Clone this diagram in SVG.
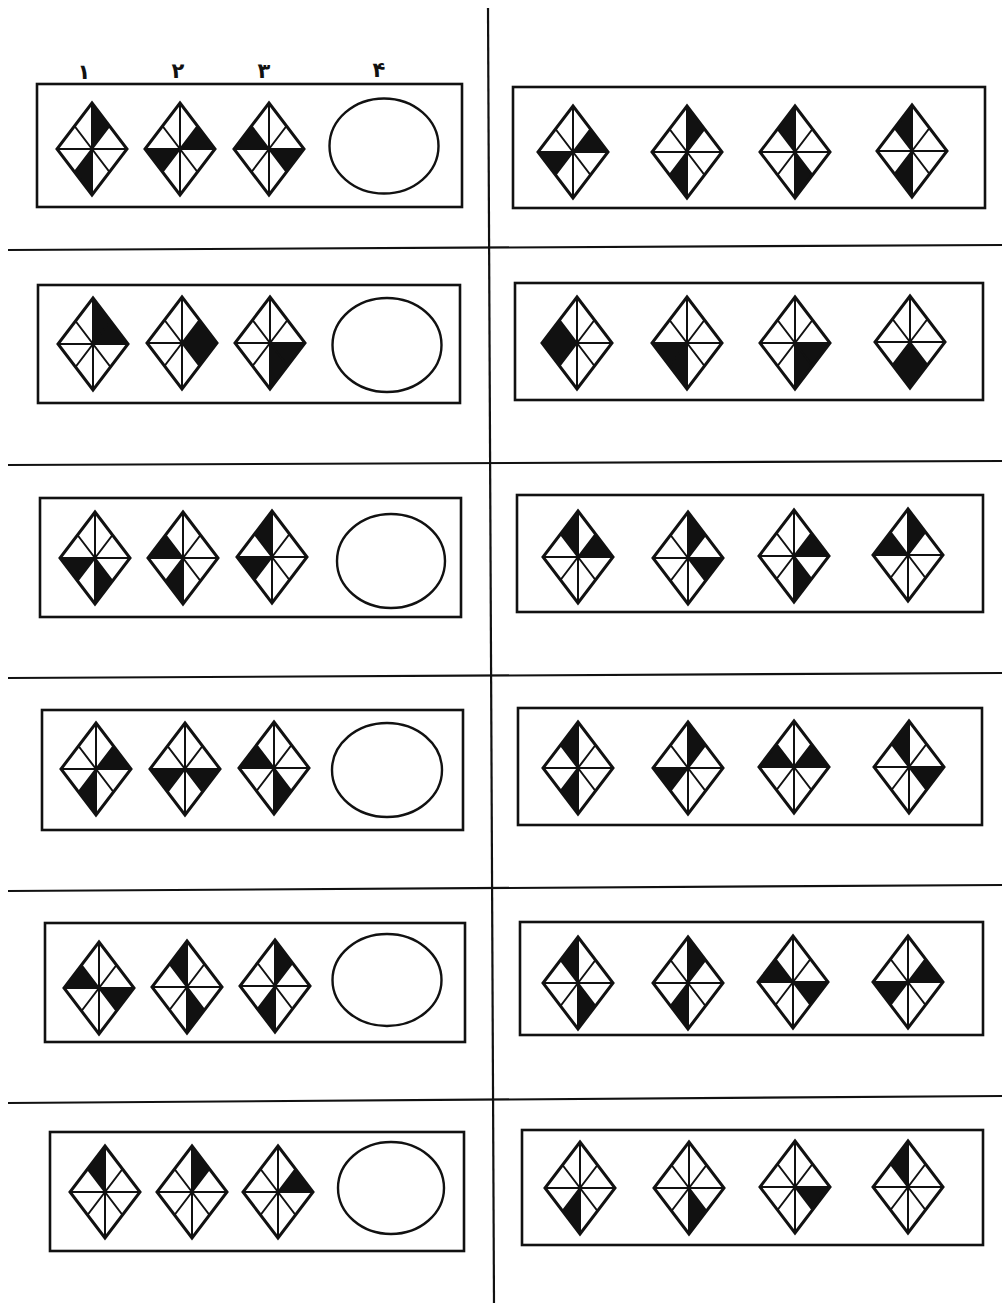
<svg xmlns="http://www.w3.org/2000/svg" xmlns:xlink="http://www.w3.org/1999/xlink" width="1002" height="1303" viewBox="0 0 1002 1303">
<style>
.box{fill:none;stroke:#111;stroke-width:2.6}
.sep{fill:none;stroke:#111;stroke-width:2.2}
.ell{fill:none;stroke:#111;stroke-width:2.4}
.f{fill:#111}
.out{fill:none;stroke:#111;stroke-width:3;stroke-linejoin:miter}
.in{fill:none;stroke:#111;stroke-width:2}
.num{font-family:"DejaVu Sans","Noto Sans",sans-serif;font-size:21px;font-weight:bold;fill:#111;text-anchor:middle}
</style>
<defs>
<polygon id="s0" points="0,0 0,-46 17.5,-23"/>
<polygon id="s1" points="0,0 17.5,-23 35,0"/>
<polygon id="s2" points="0,0 35,0 17.5,23"/>
<polygon id="s3" points="0,0 17.5,23 0,46"/>
<polygon id="s4" points="0,0 0,46 -17.5,23"/>
<polygon id="s5" points="0,0 -17.5,23 -35,0"/>
<polygon id="s6" points="0,0 -35,0 -17.5,-23"/>
<polygon id="s7" points="0,0 -17.5,-23 0,-46"/>
<g id="dia">
<path class="in" d="M0,-46V46M-35,0H35M0,0L17.5,-23M0,0L17.5,23M0,0L-17.5,23M0,0L-17.5,-23"/>
<polygon class="out" points="0,-46 35,0 0,46 -35,0"/>
</g>
</defs>
<rect width="1002" height="1303" fill="#fff"/>
<g id="connectors">
<line class="sep" x1="488" y1="8" x2="494" y2="1303"/>
<line class="sep" x1="8" y1="250" x2="1002" y2="245"/>
<line class="sep" x1="8" y1="465" x2="1002" y2="461"/>
<line class="sep" x1="8" y1="678" x2="1002" y2="673"/>
<line class="sep" x1="8" y1="891" x2="1002" y2="885"/>
<line class="sep" x1="8" y1="1103" x2="1002" y2="1096"/>
</g>
<g id="labels">
<text class="num" x="84" y="79">۱</text>
<text class="num" x="178" y="78">۲</text>
<text class="num" x="264" y="78">۳</text>
<text class="num" x="379" y="77">۴</text>
</g>
<!-- Row 1 -->
<g id="L1">
<rect class="box" x="37" y="84" width="425" height="123"/>
<g id="L1a" transform="translate(92,149)"><use href="#s0" class="f"/><use href="#s4" class="f"/><use href="#dia"/></g>
<g id="L1b" transform="translate(180,149)"><use href="#s1" class="f"/><use href="#s5" class="f"/><use href="#dia"/></g>
<g id="L1c" transform="translate(269,149)"><use href="#s2" class="f"/><use href="#s6" class="f"/><use href="#dia"/></g>
<ellipse id="L1d" class="ell" cx="384" cy="146" rx="54.5" ry="47.5"/>
</g>
<g id="R1">
<rect class="box" x="513" y="87" width="472" height="121"/>
<g id="R1a" transform="translate(573,152)"><use href="#s1" class="f"/><use href="#s5" class="f"/><use href="#dia"/></g>
<g id="R1b" transform="translate(687,152)"><use href="#s0" class="f"/><use href="#s4" class="f"/><use href="#dia"/></g>
<g id="R1c" transform="translate(795,152)"><use href="#s3" class="f"/><use href="#s7" class="f"/><use href="#dia"/></g>
<g id="R1d" transform="translate(912,151)"><use href="#s4" class="f"/><use href="#s7" class="f"/><use href="#dia"/></g>
</g>
<!-- Row 2 -->
<g id="L2">
<rect class="box" x="38" y="285" width="422" height="118"/>
<g id="L2a" transform="translate(93,344)"><use href="#s0" class="f"/><use href="#s1" class="f"/><use href="#dia"/></g>
<g id="L2b" transform="translate(182,343)"><use href="#s1" class="f"/><use href="#s2" class="f"/><use href="#dia"/></g>
<g id="L2c" transform="translate(270,343)"><use href="#s2" class="f"/><use href="#s3" class="f"/><use href="#dia"/></g>
<ellipse id="L2d" class="ell" cx="387" cy="345" rx="54.5" ry="47"/>
</g>
<g id="R2">
<rect class="box" x="515" y="283" width="468" height="117"/>
<g id="R2a" transform="translate(577,343)"><use href="#s5" class="f"/><use href="#s6" class="f"/><use href="#dia"/></g>
<g id="R2b" transform="translate(687,343)"><use href="#s4" class="f"/><use href="#s5" class="f"/><use href="#dia"/></g>
<g id="R2c" transform="translate(795,343)"><use href="#s2" class="f"/><use href="#s3" class="f"/><use href="#dia"/></g>
<g id="R2d" transform="translate(910,342)"><use href="#s3" class="f"/><use href="#s4" class="f"/><use href="#dia"/></g>
</g>
<!-- Row 3 -->
<g id="L3">
<rect class="box" x="40" y="498" width="421" height="119"/>
<g id="L3a" transform="translate(95,558)"><use href="#s3" class="f"/><use href="#s5" class="f"/><use href="#dia"/></g>
<g id="L3b" transform="translate(183,558)"><use href="#s4" class="f"/><use href="#s6" class="f"/><use href="#dia"/></g>
<g id="L3c" transform="translate(272,557)"><use href="#s5" class="f"/><use href="#s7" class="f"/><use href="#dia"/></g>
<ellipse id="L3d" class="ell" cx="391" cy="561" rx="54" ry="47"/>
</g>
<g id="R3">
<rect class="box" x="517" y="495" width="466" height="117"/>
<g id="R3a" transform="translate(578,557)"><use href="#s1" class="f"/><use href="#s7" class="f"/><use href="#dia"/></g>
<g id="R3b" transform="translate(688,558)"><use href="#s0" class="f"/><use href="#s2" class="f"/><use href="#dia"/></g>
<g id="R3c" transform="translate(794,556)"><use href="#s1" class="f"/><use href="#s3" class="f"/><use href="#dia"/></g>
<g id="R3d" transform="translate(908,555)"><use href="#s0" class="f"/><use href="#s6" class="f"/><use href="#dia"/></g>
</g>
<!-- Row 4 -->
<g id="L4">
<rect class="box" x="42" y="710" width="421" height="120"/>
<g id="L4a" transform="translate(96,769)"><use href="#s1" class="f"/><use href="#s4" class="f"/><use href="#dia"/></g>
<g id="L4b" transform="translate(185,769)"><use href="#s2" class="f"/><use href="#s5" class="f"/><use href="#dia"/></g>
<g id="L4c" transform="translate(274,768)"><use href="#s3" class="f"/><use href="#s6" class="f"/><use href="#dia"/></g>
<ellipse id="L4d" class="ell" cx="387" cy="770" rx="55" ry="47"/>
</g>
<g id="R4">
<rect class="box" x="518" y="708" width="464" height="117"/>
<g id="R4a" transform="translate(578,768)"><use href="#s4" class="f"/><use href="#s7" class="f"/><use href="#dia"/></g>
<g id="R4b" transform="translate(688,768)"><use href="#s0" class="f"/><use href="#s5" class="f"/><use href="#dia"/></g>
<g id="R4c" transform="translate(794,767)"><use href="#s1" class="f"/><use href="#s6" class="f"/><use href="#dia"/></g>
<g id="R4d" transform="translate(909,767)"><use href="#s2" class="f"/><use href="#s7" class="f"/><use href="#dia"/></g>
</g>
<!-- Row 5 -->
<g id="L5">
<rect class="box" x="45" y="923" width="420" height="119"/>
<g id="L5a" transform="translate(99,988)"><use href="#s2" class="f"/><use href="#s6" class="f"/><use href="#dia"/></g>
<g id="L5b" transform="translate(187,987)"><use href="#s3" class="f"/><use href="#s7" class="f"/><use href="#dia"/></g>
<g id="L5c" transform="translate(275,986)"><use href="#s0" class="f"/><use href="#s4" class="f"/><use href="#dia"/></g>
<ellipse id="L5d" class="ell" cx="387" cy="980" rx="54.5" ry="46"/>
</g>
<g id="R5">
<rect class="box" x="520" y="922" width="463" height="113"/>
<g id="R5a" transform="translate(578,983)"><use href="#s3" class="f"/><use href="#s7" class="f"/><use href="#dia"/></g>
<g id="R5b" transform="translate(688,983)"><use href="#s0" class="f"/><use href="#s4" class="f"/><use href="#dia"/></g>
<g id="R5c" transform="translate(793,982)"><use href="#s2" class="f"/><use href="#s6" class="f"/><use href="#dia"/></g>
<g id="R5d" transform="translate(908,982)"><use href="#s1" class="f"/><use href="#s5" class="f"/><use href="#dia"/></g>
</g>
<!-- Row 6 -->
<g id="L6">
<rect class="box" x="50" y="1132" width="414" height="119"/>
<g id="L6a" transform="translate(105,1192)"><use href="#s7" class="f"/><use href="#dia"/></g>
<g id="L6b" transform="translate(192,1192)"><use href="#s0" class="f"/><use href="#dia"/></g>
<g id="L6c" transform="translate(278,1192)"><use href="#s1" class="f"/><use href="#dia"/></g>
<ellipse id="L6d" class="ell" cx="391" cy="1188" rx="53" ry="46"/>
</g>
<g id="R6">
<rect class="box" x="522" y="1130" width="461" height="115"/>
<g id="R6a" transform="translate(580,1188)"><use href="#s4" class="f"/><use href="#dia"/></g>
<g id="R6b" transform="translate(689,1188)"><use href="#s3" class="f"/><use href="#dia"/></g>
<g id="R6c" transform="translate(795,1187)"><use href="#s2" class="f"/><use href="#dia"/></g>
<g id="R6d" transform="translate(908,1187)"><use href="#s7" class="f"/><use href="#dia"/></g>
</g>
</svg>
